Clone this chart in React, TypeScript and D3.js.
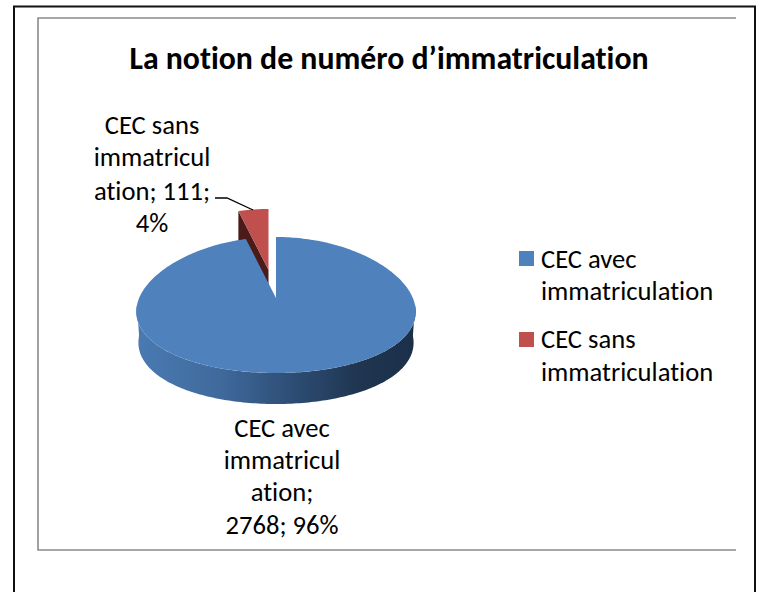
import React from "react";
import * as d3 from "d3";

const categories = ["CEC avec immatriculation", "CEC sans immatriculation"];
const values = [2768, 111];
const colors = ["#4F81BD", "#C0504D"];
const titleText = "La notion de numéro d’immatriculation";
const legendLines = [["CEC avec", "immatriculation"], ["CEC sans", "immatriculation"]];
const labelLines = [["CEC avec", "immatricul", "ation;", "2768; 96%"], ["CEC sans", "immatricul", "ation; 111;", "4%"]];

const font = "Carlito, Calibri, Lato, sans-serif";
const cx = 276, cy = 305, rx = 139, ry = 68, apexY = 298, depth = 31;
const explode = { dx: -7.5, dy: -28 };

// Tilted-disc projection of a pie angle (0 = top, clockwise), with slight perspective.
const px = (a: number, k = 1) => cx + k * rx * Math.sin(a) * (1 - 0.1 * Math.cos(a));
const py = (a: number) => cy - ry * Math.cos(a);

const pieGen = d3.pie<number>().sort(null).value((d) => d);
const slices = pieGen(values);
const line = d3.line<[number, number]>();

function arcPts(a0: number, a1: number, dy = 0, k = 1): [number, number][] {
  const n = Math.max(2, Math.ceil(Math.abs(a1 - a0) / 0.02));
  return d3.range(n + 1).map((i) => {
    const a = a0 + ((a1 - a0) * i) / n;
    return [px(a, k), py(a) + dy] as [number, number];
  });
}

function facePath(a0: number, a1: number) {
  return line([[cx, apexY], ...arcPts(a0, a1)])! + "Z";
}

export default function App() {
  const blue = slices[0];
  const red = slices[1];
  const redStart = red.startAngle;
  const frontStart = Math.PI / 2;
  const frontEnd = (3 * Math.PI) / 2;
  const wall = [...arcPts(frontStart, frontEnd), ...arcPts(frontEnd, frontStart, depth, 0.985)];
  const redOuter: [number, number] = [px(redStart), py(redStart)];
  const redCut: [number, number][] = [
    redOuter,
    [redOuter[0], redOuter[1] + depth],
    [cx, apexY + depth],
    [cx, apexY],
  ];
  return (
    <svg width={762} height={592} style={{ position: "absolute", left: 0, top: 0, fontVariantLigatures: "none" }} fontFamily={font}>
      <defs>
        <linearGradient id="wallGrad" x1="0" x2="1" y1="0" y2="0">
          <stop offset="0" stopColor="#4A7AB3" />
          <stop offset="0.3" stopColor="#3F6A9C" />
          <stop offset="0.55" stopColor="#2E4E76" />
          <stop offset="0.8" stopColor="#1F3550" />
          <stop offset="1" stopColor="#1B2F49" />
        </linearGradient>
      </defs>
      <rect width={762} height={592} fill="#fff" />
      <path d="M14 600V6.5H755V600" fill="none" stroke="#111" strokeWidth={2} />
      <path d="M736 18H38V550H736" fill="none" stroke="#8a8a8a" strokeWidth={1.6} />
      <text x={389} y={69} textAnchor="middle" fontSize={31.8} fontWeight={700} fill="#000">{titleText}</text>

      <g transform={`translate(${explode.dx},${explode.dy})`}>
        <path d={line(redCut)! + "Z"} fill="#4A1B19" />
        <path d={facePath(red.startAngle, red.endAngle)} fill={colors[1]} />
      </g>
      <path d={line(wall)! + "Z"} fill="url(#wallGrad)" />
      <path d={facePath(blue.startAngle, blue.endAngle)} fill={colors[0]} />

      <path d="M215 198H227L253 210" fill="none" stroke="#000" strokeWidth={1.3} />

      {labelLines[1].map((t, i) => (
        <text key={t} x={152} y={[134, 166, 200, 232][i]} textAnchor="middle" fontSize={26.6} fill="#000">{t}</text>
      ))}
      {labelLines[0].map((t, i) => (
        <text key={t} x={282} y={[437, 469, 501, 534][i]} textAnchor="middle" fontSize={26.6} fill="#000">{t}</text>
      ))}

      {categories.map((c, i) => (
        <g key={c}>
          <rect x={519} y={[251, 332][i]} width={15} height={15} fill={colors[i]} />
          {legendLines[i].map((t, j) => (
            <text key={j} x={541} y={[[268, 300], [348, 381]][i][j]} fontSize={26.6} fill="#000">{t}</text>
          ))}
        </g>
      ))}
    </svg>
  );
}
